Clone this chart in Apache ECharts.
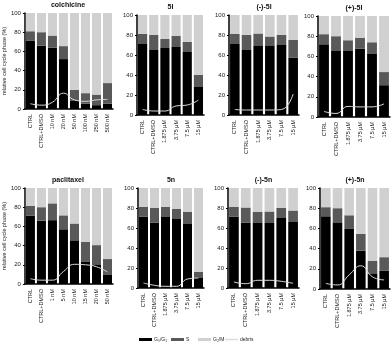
<!DOCTYPE html>
<html>
<head>
<meta charset="utf-8">
<script src="https://cdn.jsdelivr.net/npm/echarts@6/dist/echarts.min.js"></script>
<style>
  html, body { margin: 0; padding: 0; background: #fff; }
  #chart { width: 392px; height: 346px; }
</style>
</head>
<body>
<div id="chart"></div>
<script>
// categories
var colCats = ['CTRL', 'CTRL+DMSO', '10 nM', '20 nM', '50 nM', '100 nM', '250 nM', '500 nM'];
var pacCats = ['CTRL', 'CTRL+DMSO', '1 nM', '5 nM', '10 nM', '15 nM', '20 nM', '50 nM'];
var conCats = ['CTRL', 'CTRL+DMSO', '1.875 µM', '3.75 µM', '7.5 µM', '15 µM'];
var yTicks = [0, 20, 40, 60, 80, 100];
var legendNames = ['G₀/G₁', 'S', 'G₂/M', 'debris'];

// colchicine
var colG1 = [71, 66, 64, 52, 9, 5.5, 4, 5.5];
var colS = [10, 14, 12.5, 13.5, 11, 11, 11, 21.5];
var colG2 = [19, 20, 23.5, 34.5, 80, 83.5, 85, 73];
var colDeb = [5.5, 4, 7, 16.5, 9.5, 8, 9.5, 10];

// 5l
var l5G1 = [71, 65, 67, 68, 63, 28];
var l5S = [10, 15, 9, 11, 10, 12];
var l5G2 = [19, 20, 24, 21, 27, 60];
var l5Deb = [5.6, 4, 4, 9, 10, 15];

// (-)-5l
var mlG1 = [71, 65, 69, 69, 70, 57.5];
var mlS = [10, 15, 12.5, 9.5, 10, 17.5];
var mlG2 = [19, 20, 18.5, 21.5, 20, 25];
var mlDeb = [5.5, 5, 5, 5, 5.5, 21];

// (+)-5l
var plG1 = [72, 66, 66, 67.5, 63, 31.5];
var plS = [10, 14, 10, 11, 11, 13];
var plG2 = [18, 20, 24, 21.5, 26, 55.5];
var plDeb = [5.5, 3.5, 10.5, 10, 10, 13];

// paclitaxel
var pacG1 = [71, 66, 66.5, 57, 45.5, 23, 20.5, 10];
var pacS = [10.5, 14, 17.5, 14.5, 17.5, 21, 20, 16];
var pacG2 = [18.5, 20, 16, 28.5, 37, 56, 59.5, 74];
var pacDeb = [5.5, 4, 4, 13, 20.5, 20, 18, 12.5];

// 5n
var n5G1 = [71.5, 65.5, 71, 69, 64, 10];
var n5S = [9.5, 14.5, 10, 10, 12, 6];
var n5G2 = [19, 20, 19, 21, 24, 84];
var n5Deb = [5, 2.7, 1.7, 1.7, 9, 10];

// (-)-5n
var mnG1 = [71.5, 65.5, 65, 65, 70, 66];
var mnS = [9.5, 15, 11, 11.5, 10, 11.5];
var mnG2 = [19, 19.5, 24, 23.5, 20, 22.5];
var mnDeb = [6, 4.3, 7.7, 7.7, 6.7, 4.7];

// (+)-5n
var pnG1 = [72, 66, 60, 38, 15.5, 18];
var pnS = [9, 14, 13, 16.5, 12.5, 13.5];
var pnG2 = [19, 20, 27, 45.5, 72, 68.5];
var pnDeb = [5.5, 4, 14, 23, 12, 9];

var panels = [
  { title: 'colchicine', cats: colCats, g1: colG1, s: colS, g2: colG2, deb: colDeb, grid: [23, 13, 90, 96] },
  { title: '5l', cats: conCats, g1: l5G1, s: l5S, g2: l5G2, deb: l5Deb, grid: [137, 15, 67, 100] },
  { title: '(-)-5l', cats: conCats, g1: mlG1, s: mlS, g2: mlG2, deb: mlDeb, grid: [229, 15, 70, 100] },
  { title: '(+)-5l', cats: conCats, g1: plG1, s: plS, g2: plG2, deb: plDeb, grid: [318, 16, 72, 101] },
  { title: 'paclitaxel', cats: pacCats, g1: pacG1, s: pacS, g2: pacG2, deb: pacDeb, grid: [23, 188, 90, 96] },
  { title: '5n', cats: conCats, g1: n5G1, s: n5S, g2: n5G2, deb: n5Deb, grid: [138, 188, 66, 100] },
  { title: '(-)-5n', cats: conCats, g1: mnG1, s: mnS, g2: mnG2, deb: mnDeb, grid: [228, 188, 71, 100] },
  { title: '(+)-5n', cats: conCats, g1: pnG1, s: pnS, g2: pnG2, deb: pnDeb, grid: [320, 188, 70, 101] }
];

var font = 'Liberation Sans';
var grids = [], xAxes = [], yAxes = [], titles = [], series = [];

panels.forEach(function (p, i) {
  var g = p.grid;
  grids.push({ left: g[0], top: g[1], width: g[2], height: g[3], containLabel: false });
  titles.push({
    text: p.title,
    left: g[0] + g[2] / 2,
    top: g[1] - 11,
    padding: 0,
    textAlign: 'center',
    textStyle: { fontFamily: font, fontSize: 7, fontWeight: 'bold', color: '#111' }
  });
  xAxes.push({
    type: 'category',
    gridIndex: i,
    data: p.cats,
    axisLine: { lineStyle: { color: '#000', width: 1.5 } },
    axisTick: { show: false },
    axisLabel: { rotate: 90, fontFamily: font, fontSize: 5.5, color: '#222', margin: 5, interval: 0 }
  });
  var y = {
    type: 'value',
    gridIndex: i,
    min: yTicks[0],
    max: yTicks[yTicks.length - 1],
    interval: 20,
    axisLine: { show: true, lineStyle: { color: '#000', width: 1.5 } },
    axisTick: { show: true, length: 2, lineStyle: { color: '#000' } },
    splitLine: { show: false },
    axisLabel: { fontFamily: font, fontSize: 6, color: '#222', margin: 4 }
  };
  if (i % 4 === 0) {
    y.name = 'relative cell cycle phase (%)';
    y.nameLocation = 'middle';
    y.nameGap = 14;
    y.nameTextStyle = { fontFamily: font, fontSize: 5.5, color: '#222' };
  }
  yAxes.push(y);

  var common = { type: 'bar', xAxisIndex: i, yAxisIndex: i, stack: 'p' + i, barCategoryGap: '18%' };
  series.push(Object.assign({ name: legendNames[0], data: p.g1, itemStyle: { color: '#000' } }, common));
  series.push(Object.assign({ name: legendNames[1], data: p.s, itemStyle: { color: '#595959' } }, common));
  series.push(Object.assign({ name: legendNames[2], data: p.g2, itemStyle: { color: '#d0d0d0' } }, common));
  series.push({
    name: legendNames[3],
    type: 'line',
    xAxisIndex: i,
    yAxisIndex: i,
    data: p.deb,
    smooth: true,
    symbol: 'none',
    z: 5,
    lineStyle: { color: '#dcdcdc', width: 1 },
    itemStyle: { color: '#dcdcdc' }
  });
});

// one legend per item so the spacing follows the original
var legendLeft = [139, 171, 198, 225];
var legends = legendNames.map(function (n, k) {
  return {
    left: legendLeft[k],
    top: 337,
    padding: 0,
    itemWidth: 13,
    itemHeight: k === 3 ? 1.5 : 3,
    icon: 'rect',
    textStyle: { fontFamily: font, fontSize: 5, color: '#222', padding: [0, 0, 0, -3] },
    data: [n]
  };
});

var myChart = echarts.init(document.getElementById('chart'));
myChart.setOption({
  animation: false,
  title: titles,
  grid: grids,
  xAxis: xAxes,
  yAxis: yAxes,
  legend: legends,
  series: series
});
</script>
</body>
</html>
